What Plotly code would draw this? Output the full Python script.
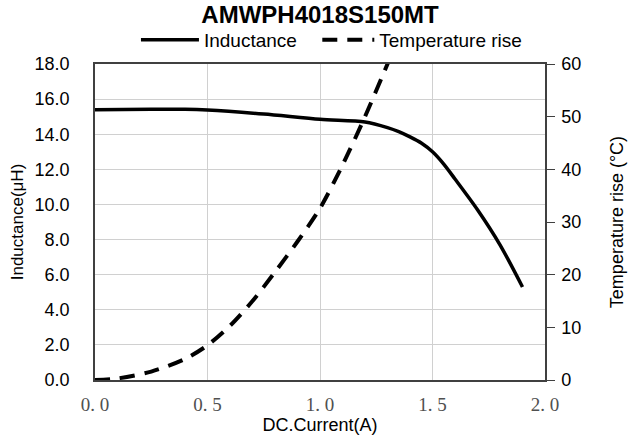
import plotly.graph_objects as go

current_L = [0.0, 0.25, 0.4, 0.5, 0.75, 1.0, 1.2, 1.3, 1.35, 1.4, 1.45, 1.5, 1.55, 1.6, 1.7, 1.8, 1.9]
inductance = [15.4, 15.42, 15.42, 15.38, 15.15, 14.85, 14.7, 14.38, 14.15, 13.85, 13.5, 13.0, 12.3, 11.45, 9.7, 7.7, 5.3]

current_T = [0.0, 0.1, 0.25, 0.4, 0.5, 0.6, 0.7, 0.8, 0.9, 1.0, 1.1, 1.2, 1.3, 1.35]
temp_rise = [0.0, 0.3, 1.6, 4.0, 6.6, 10.3, 15.0, 20.5, 26.3, 32.6, 40.8, 50.0, 60.0, 65.0]

x_ticks = [0.0, 0.5, 1.0, 1.5, 2.0]
x_ticklabels = ["0. 0", "0. 5", "1. 0", "1. 5", "2. 0"]
yL_ticks = [0, 2, 4, 6, 8, 10, 12, 14, 16, 18]
yR_ticks = [0, 10, 20, 30, 40, 50, 60]

fig = go.Figure()
fig.add_trace(go.Scatter(x=current_L, y=inductance, mode="lines", name="Inductance",
                         legend="legend",
                         line=dict(color="black", width=3.5, shape="spline", smoothing=0.8)))
fig.add_trace(go.Scatter(x=current_T, y=temp_rise, mode="lines", name="Temperature rise",
                         yaxis="y2", legend="legend2",
                         line=dict(color="black", width=4, dash="15px,10px", shape="spline", smoothing=0.8)))

font_main = "Liberation Sans, Arial, sans-serif"
leg_common = dict(orientation="h", xanchor="left", y=1.076, yanchor="middle",
                  font=dict(family=font_main, size=19, color="black"),
                  bgcolor="rgba(0,0,0,0)")
fig.update_layout(
    width=635, height=443,
    margin=dict(l=95, r=90, t=64, b=63, autoexpand=False),
    paper_bgcolor="white", plot_bgcolor="white",
    title=dict(text="<b>AMWPH4018S150MT</b>", x=0.504, xanchor="center", y=0.968, yanchor="middle",
               font=dict(family=font_main, size=24, color="black")),
    legend=dict(x=0.091, itemwidth=58, **leg_common),
    legend2=dict(x=0.494, itemwidth=52, **leg_common),
    showlegend=True,
    xaxis=dict(range=[0, 2.0], tickvals=x_ticks, ticktext=x_ticklabels,
               tickfont=dict(family="Liberation Serif, DejaVu Serif, serif", size=19, color="#505050"),
               showgrid=True, gridcolor="#d0d0d0", gridwidth=1,
               showline=True, linecolor="#404040", linewidth=1.5, mirror=True,
               ticks="outside", ticklen=6, tickcolor="rgba(0,0,0,0)", zeroline=False,
               title=dict(text="DC.Current(A)", font=dict(family=font_main, size=18, color="black"), standoff=4)),
    yaxis=dict(range=[0, 18], tickvals=yL_ticks, tickformat=".1f",
               tickfont=dict(family=font_main, size=18, color="black"),
               showgrid=True, gridcolor="#d0d0d0", gridwidth=1,
               showline=True, linecolor="#404040", linewidth=1.5,
               ticks="outside", ticklen=20, tickcolor="rgba(0,0,0,0)", zeroline=False,
               title=dict(text="Inductance(μH)", font=dict(family=font_main, size=17, color="black"), standoff=7)),
    yaxis2=dict(range=[0, 60], tickvals=yR_ticks, overlaying="y", side="right",
                tickfont=dict(family=font_main, size=18, color="black"),
                showgrid=False, showline=True, linecolor="#404040", linewidth=1.5,
                ticks="outside", ticklen=8, tickcolor="#404040", zeroline=False,
                ticklabelstandoff=3,
                title=dict(text="Temperature rise (°C)", font=dict(family=font_main, size=18, color="black"), standoff=30)),
)

fig.write_html("out.html", config={"displayModeBar": False},
               post_script="document.body.style.margin='0';document.body.style.overflow='hidden';")
